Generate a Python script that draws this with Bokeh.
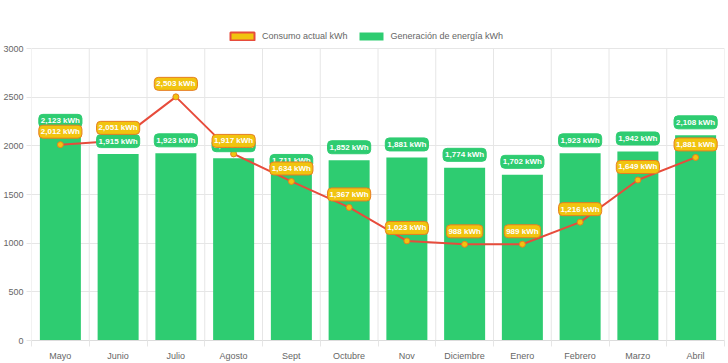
from bokeh.plotting import figure
from bokeh.models import Label, Legend, LegendItem, FixedTicker
from bokeh.embed import file_html
from bokeh.resources import INLINE

months = ["Mayo", "Junio", "Julio", "Agosto", "Sept", "Octubre", "Nov",
          "Diciembre", "Enero", "Febrero", "Marzo", "Abril"]
consumo = [2012, 2051, 2503, 1917, 1634, 1367, 1023, 988, 989, 1216, 1649, 1881]
generacion = [2123, 1915, 1923, 1873, 1711, 1852, 1881, 1774, 1702, 1923, 1942, 2108]
y_ticks = [0, 500, 1000, 1500, 2000, 2500, 3000]

FONT = "Liberation Sans"
GREEN = "#2ecc71"
YELLOW = "#f1c40f"
RED = "#e74c3c"
ORANGE = "#e67e22"
GRID = "#e6e6e6"

n = len(months)
xs = [i + 0.5 for i in range(n)]
bounds = list(range(n + 1))
y_max = y_ticks[-1]

PLOT_H = 292          # pixels for 0..3000
TOP_PAD = 24          # room for the legend inside the frame
y_top = y_max * (PLOT_H + TOP_PAD) / PLOT_H

p = figure(frame_width=693, frame_height=PLOT_H + TOP_PAD, output_backend="svg",
           toolbar_location=None, x_range=(0, n), y_range=(0, y_top),
           min_border_left=0, min_border_right=4, min_border_top=24, min_border_bottom=0)
p.outline_line_color = None

# grids: horizontal via grid, vertical boundaries drawn only up to the top tick
p.xgrid.visible = False
p.ygrid.ticker = FixedTicker(ticks=y_ticks)
p.ygrid.grid_line_color = GRID
p.segment(x0=bounds, y0=[0] * len(bounds), x1=bounds, y1=[y_max] * len(bounds),
          line_color=GRID, line_width=1)

# y axis
ya = p.yaxis[0]
ya.ticker = FixedTicker(ticks=y_ticks)
ya.major_tick_out = 5
ya.major_tick_in = 0
ya.minor_tick_out = 0
ya.minor_tick_in = 0
ya.major_tick_line_color = GRID
ya.axis_line_color = None
ya.major_label_text_font = FONT
ya.major_label_text_font_size = "9px"
ya.major_label_text_color = "#666666"
ya.major_label_standoff = 3

# x axis: labels at centres, minor ticks at category boundaries
xa = p.xaxis[0]
xa.ticker = FixedTicker(ticks=xs, minor_ticks=bounds)
xa.major_label_overrides = {x: m for x, m in zip(xs, months)}
xa.major_tick_out = 0
xa.major_tick_in = 0
xa.minor_tick_out = 6
xa.minor_tick_in = 0
xa.minor_tick_line_color = GRID
xa.axis_line_color = "#dcdcdc"
xa.major_label_standoff = 4
xa.major_label_text_font = FONT
xa.major_label_text_font_size = "9px"
xa.major_label_text_color = "#666666"

# bars
bars = p.vbar(x=xs, top=generacion, width=0.71, fill_color=GREEN, line_color=None)

# line + points
p.line(xs, consumo, line_color=RED, line_width=2)
p.scatter(xs, consumo, size=6, fill_color=YELLOW, line_color=ORANGE, line_width=1)

# legend-only glyph for the line series
nan = float("nan")
dummy = p.quad(left=[nan], right=[nan], top=[nan], bottom=[nan], fill_color=YELLOW,
               line_color=RED, line_width=2)

legend = Legend(items=[LegendItem(label="Consumo actual kWh", renderers=[dummy]),
                       LegendItem(label="Generación de energía kWh", renderers=[bars])],
                orientation="horizontal", location=(196, PLOT_H + TOP_PAD - 17),
                glyph_width=30, glyph_height=10, label_height=10,
                label_text_font=FONT, label_text_font_size="9px",
                label_text_color="#666666", label_standoff=5, spacing=8,
                border_line_color=None, background_fill_alpha=0,
                padding=0, margin=0)
p.add_layout(legend, "center")

# data labels
for x, v in zip(xs, generacion):
    p.add_layout(Label(x=x, y=v, y_offset=13, text=f"{v:,} kWh",
                       text_align="center", text_baseline="middle",
                       text_font=FONT, text_font_size="8px", text_font_style="bold",
                       text_color="white", background_fill_color=GREEN,
                       border_line_color=GREEN, border_line_width=1,
                       padding=2, border_radius=4))
for x, v in zip(xs, consumo):
    p.add_layout(Label(x=x, y=v, y_offset=13, text=f"{v:,} kWh",
                       text_align="center", text_baseline="middle",
                       text_font=FONT, text_font_size="8px", text_font_style="bold",
                       text_color="white", background_fill_color=YELLOW,
                       border_line_color=ORANGE, border_line_width=1,
                       padding=2, border_radius=4))

open("out.html", "w").write(file_html(p, INLINE))
